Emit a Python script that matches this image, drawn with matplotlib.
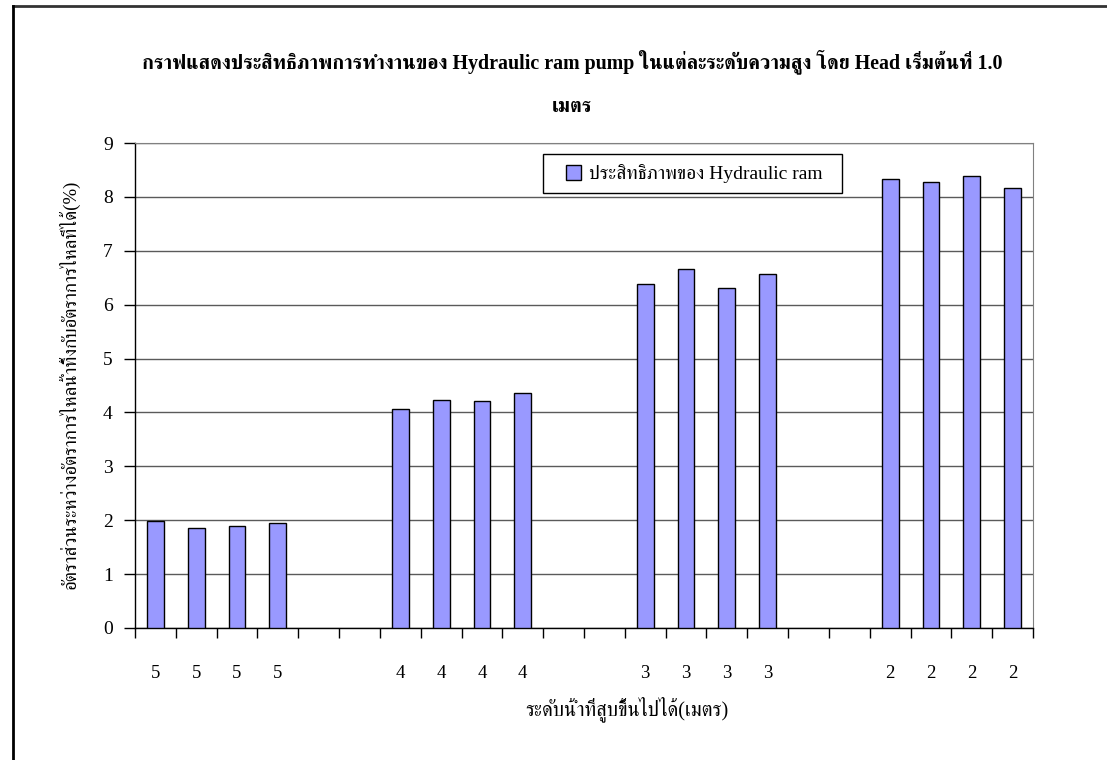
import matplotlib
matplotlib.use("Agg")
import matplotlib.pyplot as plt
from matplotlib.lines import Line2D
from matplotlib.patches import Patch, Rectangle
import numpy as np

# Lift height per test (m) and the measured efficiency (%) for each run
heights = ["5", "5", "5", "5", "", "",
           "4", "4", "4", "4", "", "",
           "3", "3", "3", "3", "", "",
           "2", "2", "2", "2"]
efficiency = [1.98, 1.86, 1.90, 1.95, None, None,
              4.07, 4.23, 4.22, 4.36, None, None,
              6.38, 6.66, 6.31, 6.57, None, None,
              8.33, 8.27, 8.39, 8.17]

title = ("กราฟแสดงประสิทธิภาพการทำงานของ Hydraulic ram pump ในแต่ละระดับความสูง โดย Head เริ่มต้นที่ 1.0\n"
         "เมตร")
xlabel = "ระดับน้ำที่สูบขึ้นไปได้(เมตร)"
ylabel = "อัตราส่วนระหว่างอัตราการไหลน้ำทิ้งกับอัตราการไหลที่ได้(%)"
legend_label = "ประสิทธิภาพของ Hydraulic ram"

FONT = ["Liberation Serif", "FreeSerif"]
plt.rcParams["font.family"] = FONT

W, H = 1107, 760
fig = plt.figure(figsize=(W / 100, H / 100), dpi=100)
ax = fig.add_axes([135 / W, 1 - 628 / H, (1033 - 135) / W, (628 - 143) / H])

x = np.arange(len(heights))
vals = np.array([np.nan if v is None else v for v in efficiency])
ax.bar(x, vals, width=0.41, color="#9999FF", edgecolor="black", linewidth=1.0, zorder=3)

ax.set_xlim(-0.5, len(heights) - 0.5)
ax.set_ylim(0, 9)
ax.set_yticks(range(0, 10))
ax.yaxis.grid(True, color="#5a5a5a", linewidth=1.0, zorder=0)
ax.tick_params(axis="y", direction="out", length=8, width=1, labelsize=14, pad=8)

# labels sit at bar centres, tick marks at the category boundaries
ax.set_xticks(x)
ax.set_xticklabels(heights)
ax.set_xticks(np.arange(-0.5, len(heights)), minor=True)
ax.tick_params(axis="x", which="major", length=0, labelsize=13.5, pad=27)
ax.tick_params(axis="x", which="minor", direction="out", length=7, width=1)

for side in ("top", "right"):
    ax.spines[side].set_color("#808080")
for side in ("left", "bottom"):
    ax.spines[side].set_color("black")
    ax.spines[side].set_linewidth(1.0)

fig.text(627 / W, 1 - 709 / H, xlabel, ha="center", va="center", fontsize=14.6)
fig.text(69 / W, 1 - 384 / H, ylabel, ha="center", va="center", rotation=90, fontsize=13.6)
fig.text(572 / W, 1 - 83 / H, title, ha="center", va="center", fontsize=14.4,
         fontweight="bold", linespacing=2.5)

# legend box drawn by hand so the horizontal padding can be wider than the vertical
fig.add_artist(Rectangle((543 / W, 1 - 193 / H), (842 - 543) / W, (193 - 154) / H,
                         transform=fig.transFigure, facecolor="white",
                         edgecolor="black", linewidth=1.0, zorder=4))
handle = Patch(facecolor="#9999FF", edgecolor="black", linewidth=1.0)
leg = fig.legend([handle], [legend_label], loc="center",
                 bbox_to_anchor=(694 / W, 1 - 173.5 / H), fontsize=14,
                 frameon=False, handlelength=0.8, handleheight=0.8,
                 borderpad=0, handletextpad=0.4, borderaxespad=0)
leg.set_zorder(5)

# outer chart border, running off the right and bottom edges
fig.add_artist(Line2D([13 / W, 1], [1 - 6 / H, 1 - 6 / H],
                      transform=fig.transFigure, color="#333333", linewidth=2))
fig.add_artist(Line2D([13 / W, 13 / W], [0, 1 - 6 / H],
                      transform=fig.transFigure, color="black", linewidth=2))

fig.savefig("out.png", dpi=100)
